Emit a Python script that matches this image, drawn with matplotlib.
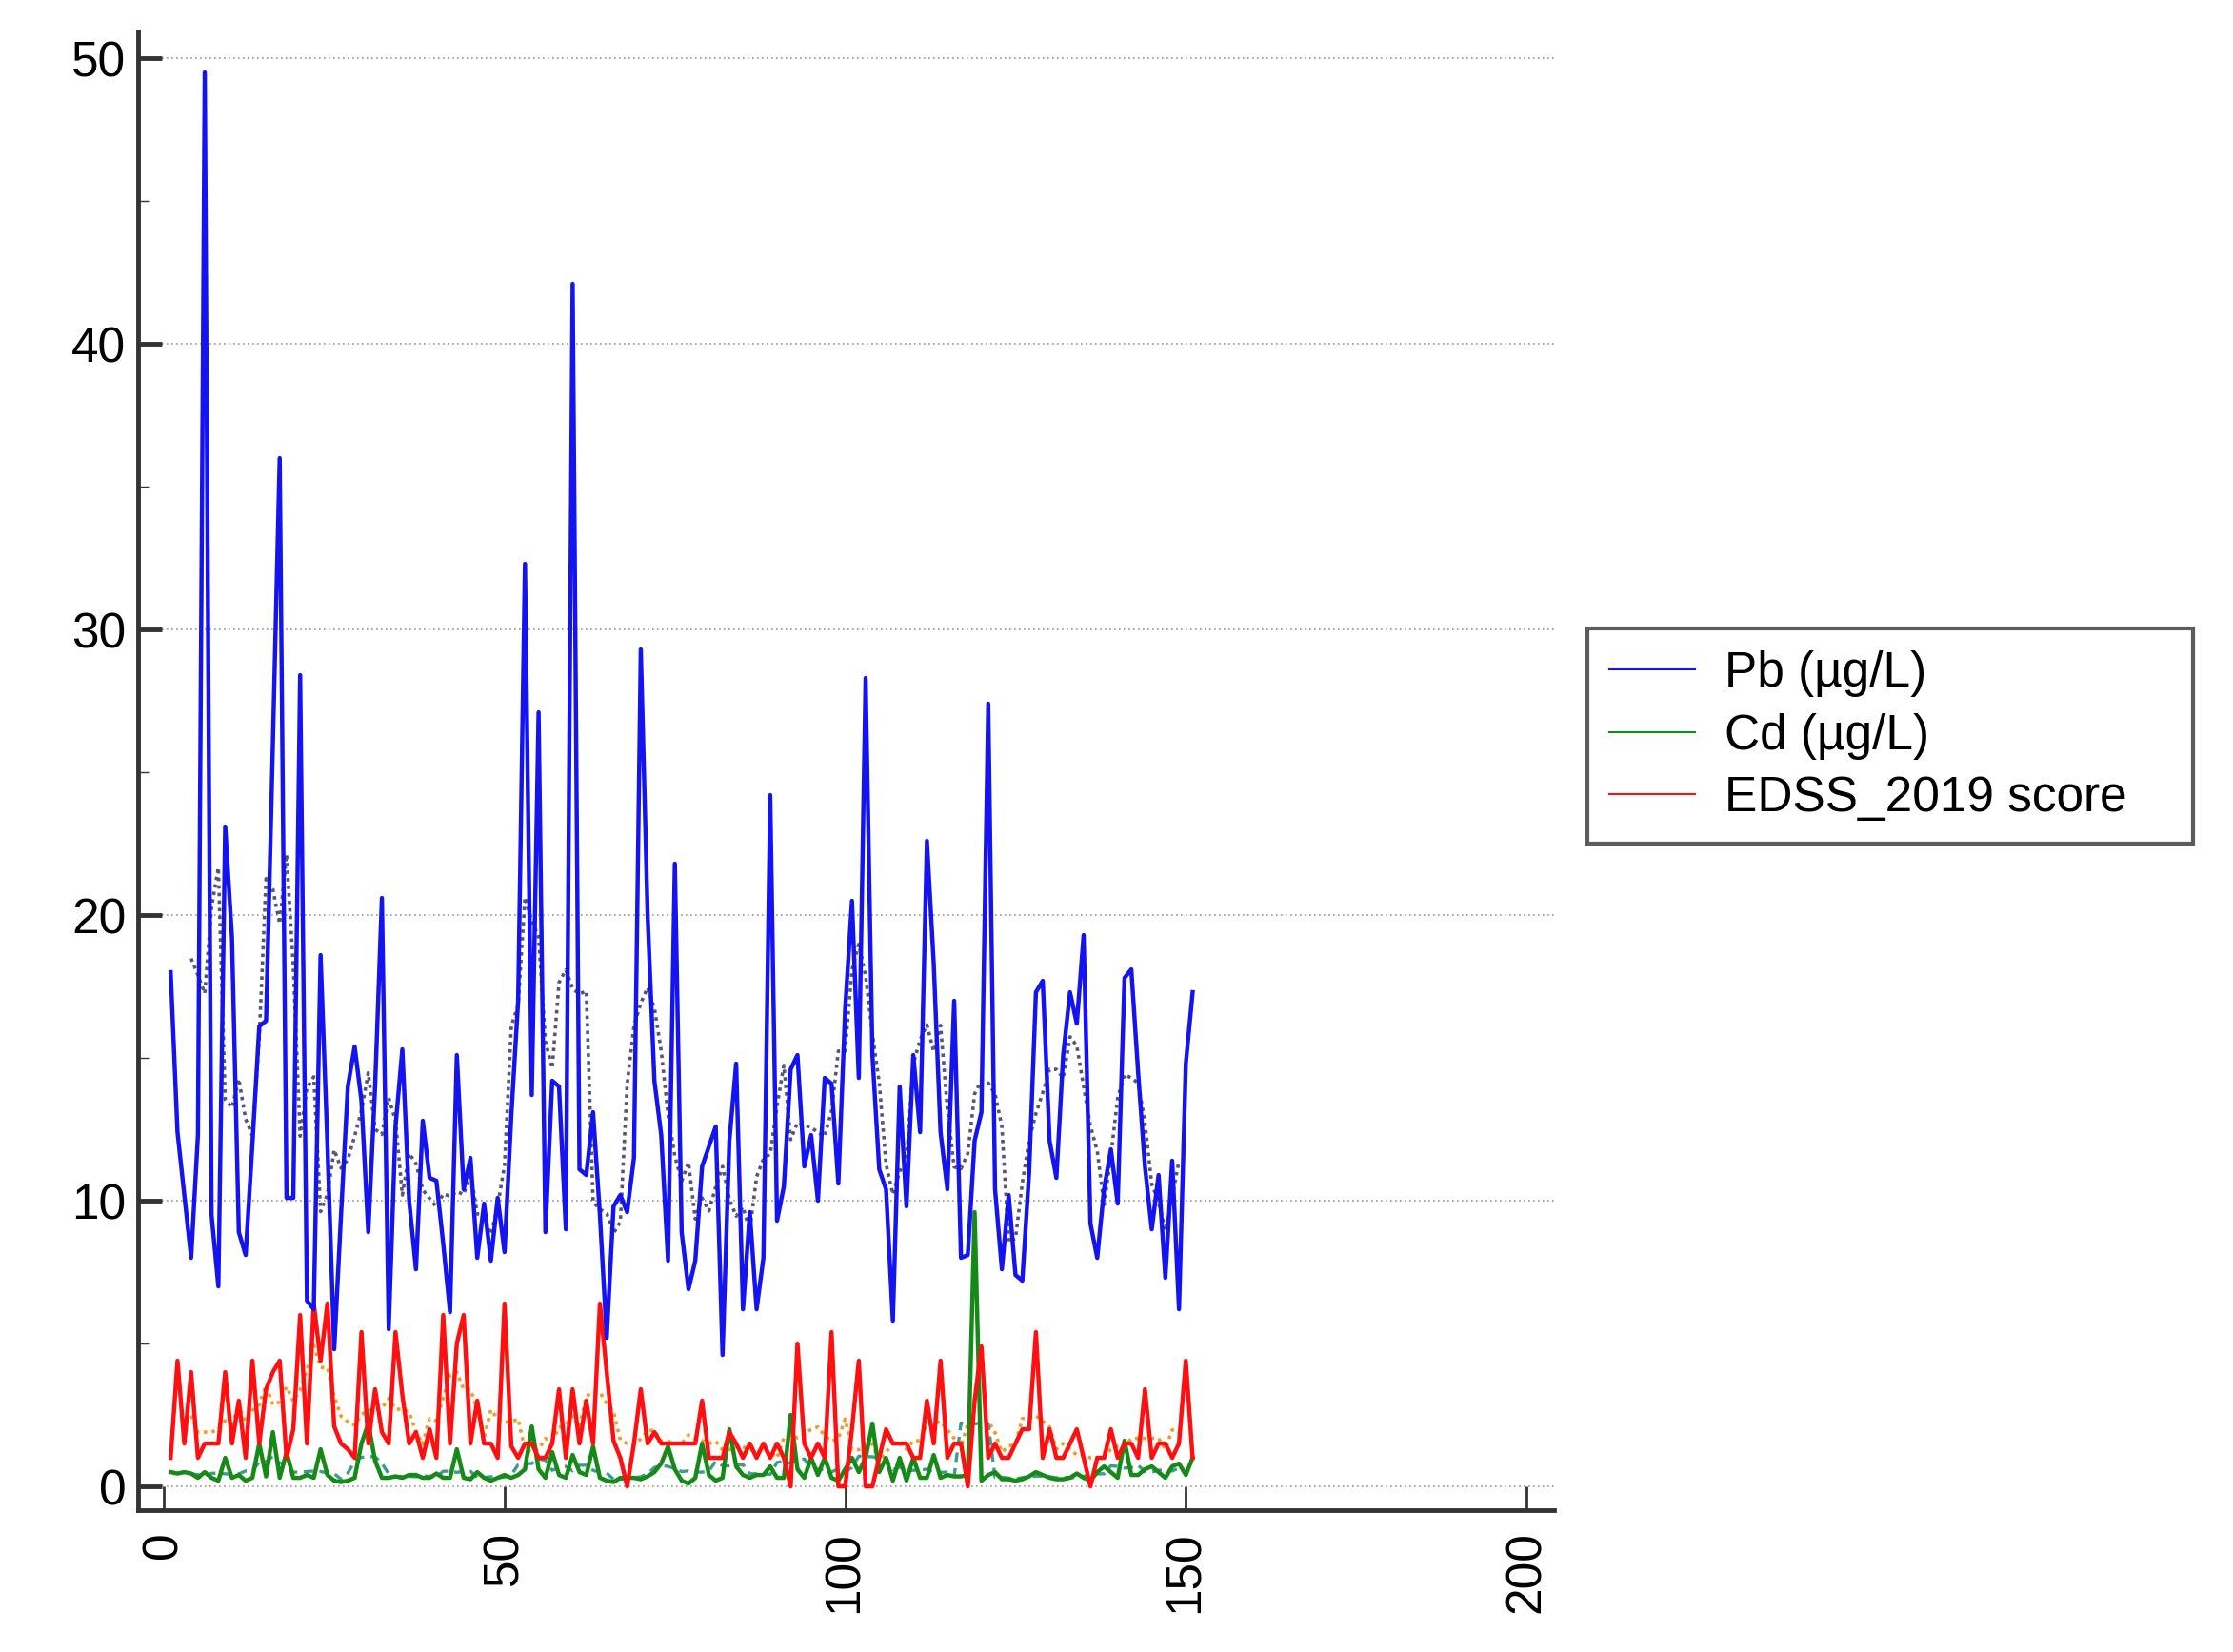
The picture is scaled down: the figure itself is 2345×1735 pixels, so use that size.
import numpy as np
import matplotlib.pyplot as plt
from matplotlib.lines import Line2D
from matplotlib.ticker import MultipleLocator

plt.rcParams['font.family'] = ['Liberation Sans', 'DejaVu Sans']

pb = [18.0, 12.4, 10.2, 8.0, 12.3, 49.5, 9.5, 7.0, 23.1, 19.2,
      8.9, 8.1, 12.0, 16.1, 16.3, 26.0, 36.0, 10.1, 10.1, 28.4,
      6.5, 6.2, 18.6, 12.0, 4.8, 9.5, 14.0, 15.4, 13.5, 8.9,
      14.0, 20.6, 5.5, 12.6, 15.3, 10.0, 7.6, 12.8, 10.8, 10.7,
      8.5, 6.1, 15.1, 10.4, 11.5, 8.0, 9.9, 7.9, 10.1, 8.2,
      13.0, 17.0, 32.3, 13.7, 27.1, 8.9, 14.2, 14.0, 9.0, 42.1,
      11.1, 10.9, 13.1, 9.5, 5.2, 9.8, 10.2, 9.6, 11.5, 29.3,
      20.0, 14.2, 12.3, 7.9, 21.8, 8.9, 6.9, 7.9, 11.2, 11.9,
      12.6, 4.6, 12.1, 14.8, 6.2, 9.6, 6.2, 8.0, 24.2, 9.3,
      10.5, 14.6, 15.1, 11.2, 12.3, 10.0, 14.3, 14.1, 10.6, 16.7,
      20.5, 14.3, 28.3, 15.1, 11.1, 10.4, 5.8, 14.0, 9.8, 15.1,
      12.4, 22.6, 18.3, 12.4, 10.4, 17.0, 8.0, 8.1, 12.1, 13.1,
      27.4, 10.4, 7.6, 10.2, 7.4, 7.2, 11.0, 17.3, 17.7, 12.1,
      10.8, 15.1, 17.3, 16.2, 19.3, 9.2, 8.0, 10.4, 11.8, 9.9,
      17.8, 18.1, 14.5, 11.2, 9.0, 10.9, 7.3, 11.4, 6.2, 14.8,
      17.3]

cd = [0.5, 0.45, 0.5, 0.45, 0.3, 0.5, 0.3, 0.2, 1.0, 0.3,
      0.4, 0.2, 0.3, 1.5, 0.35, 1.9, 0.3, 1.2, 0.3, 0.3,
      0.4, 0.3, 1.3, 0.4, 0.2, 0.15, 0.2, 0.3, 1.5, 2.2,
      0.9, 0.3, 0.3, 0.35, 0.3, 0.4, 0.4, 0.3, 0.3, 0.45,
      0.3, 0.3, 1.3, 0.3, 0.25, 0.5, 0.3, 0.2, 0.3, 0.4,
      0.3, 0.4, 0.6, 2.1, 0.6, 0.3, 1.2, 0.4, 0.3, 1.1,
      0.5, 0.4, 1.4, 0.3, 0.2, 0.15, 0.3, 0.3, 0.3, 0.25,
      0.35, 0.5, 0.8, 1.4, 0.6, 0.2, 0.1, 0.3, 1.5, 0.4,
      0.2, 0.3, 2.0, 0.7, 0.4, 0.3, 0.4, 0.4, 0.7, 0.3,
      0.3, 2.5, 0.6, 0.3, 1.0, 0.4, 1.0, 0.3, 0.2, 0.6,
      1.0, 0.5, 1.0, 2.2, 0.5, 1.0, 0.2, 1.0, 0.2, 1.0,
      0.3, 0.3, 1.1, 0.3, 0.4, 0.35, 0.35, 0.4, 9.6, 0.2,
      0.4, 0.5, 0.25, 0.25, 0.2, 0.25, 0.35, 0.5, 0.4, 0.3,
      0.25, 0.25, 0.3, 0.45, 0.3, 0.2, 0.5, 0.7, 0.5, 0.3,
      1.6, 0.4, 0.4, 0.6, 0.7, 0.5, 0.3, 0.7, 0.8, 0.4,
      1.0]

edss = [1.0, 4.4, 1.5, 4.0, 1.0, 1.5, 1.5, 1.5, 4.0, 1.5,
        3.0, 1.0, 4.4, 1.5, 3.4, 4.0, 4.4, 1.0, 2.0, 6.0,
        1.5, 6.4, 4.4, 6.4, 2.1, 1.5, 1.3, 1.0, 5.4, 1.5,
        3.4, 1.9, 1.5, 5.4, 3.2, 1.5, 1.9, 1.0, 2.0, 1.0,
        6.0, 1.5, 5.0, 6.0, 1.5, 3.0, 1.5, 1.5, 1.0, 6.4,
        1.4, 1.0, 1.5, 1.5, 1.0, 1.0, 1.5, 3.4, 1.0, 3.4,
        1.5, 3.0, 1.5, 6.4, 4.0, 1.6, 1.0, 0.0, 1.5, 3.4,
        1.5, 1.9, 1.5, 1.5, 1.5, 1.5, 1.5, 1.5, 3.0, 1.0,
        1.0, 1.0, 1.9, 1.5, 1.0, 1.5, 1.0, 1.5, 1.0, 1.5,
        1.0, 0.0, 5.0, 1.5, 1.0, 1.5, 1.0, 5.4, 0.0, 0.0,
        2.0, 4.4, 0.0, 0.0, 1.0, 2.0, 1.5, 1.5, 1.5, 1.0,
        1.0, 3.0, 1.5, 4.4, 1.0, 1.5, 1.5, 0.0, 3.0, 4.9,
        1.0, 1.5, 1.0, 1.0, 1.5, 2.0, 2.0, 5.4, 1.0, 2.0,
        1.0, 1.0, 1.5, 2.0, 1.0, 0.0, 1.0, 1.0, 2.0, 1.0,
        1.5, 1.5, 1.0, 3.4, 1.0, 1.5, 1.5, 1.0, 1.5, 4.4,
        1.0]

series_labels = ['Pb (µg/L)', 'Cd (µg/L)', 'EDSS_2019 score']
x_ticks = [0, 50, 100, 150, 200]
y_ticks = [0, 10, 20, 30, 40, 50]


def moving_average(values, n=5):
    # centred moving average, same as the dotted trend lines
    return np.convolve(values, np.ones(n) / n, mode='valid')


obs = np.arange(1, len(pb) + 1)
ma_x = obs[2:-2][1:]

fig = plt.figure(figsize=(23.45, 17.35), dpi=100)
ax = fig.add_axes([0.0618, 0.0859, 0.634, 0.895])

ax.yaxis.grid(True, linestyle=(0, (1, 2)), color='#999999', linewidth=1.2)
ax.set_axisbelow(True)

# trend lines
ax.plot(ma_x, moving_average(pb)[1:], linestyle=(0, (1, 1.2)), color='#55557a', linewidth=2.6)
ax.plot(ma_x, moving_average(edss)[1:], linestyle=(0, (1, 1.3)), color='#f59a23', linewidth=2.6)
ax.plot(ma_x, moving_average(cd)[1:], linestyle=(0, (3, 2)), color='#3c9c8c', linewidth=2.4)

ax.plot(obs, cd, color='#168a16', linewidth=3.2)
ax.plot(obs, edss, color='#ff1010', linewidth=3.2)
ax.plot(obs, pb, color='#1414f0', linewidth=3.2)

ax.set_xlim(-3.8, 204)
ax.set_ylim(-0.83, 50.93)
ax.set_xticks(x_ticks)
ax.set_yticks(y_ticks)
ax.yaxis.set_minor_locator(MultipleLocator(5))

for side in ['top', 'right']:
    ax.spines[side].set_visible(False)
for side in ['left', 'bottom']:
    ax.spines[side].set_linewidth(3.5)
    ax.spines[side].set_color('#333333')

ax.tick_params(axis='y', which='major', direction='in', length=18, width=3.5,
               color='#333333', labelsize=37, pad=9)
ax.tick_params(axis='y', which='minor', direction='in', length=8, width=1,
               color='#333333')
ax.tick_params(axis='x', which='major', direction='in', length=18, width=2,
               color='#333333', labelsize=37, pad=16, labelrotation=90)

handles = [Line2D([], [], color='#1414f0', linewidth=1.5),
           Line2D([], [], color='#168a16', linewidth=1.5),
           Line2D([], [], color='#ff1010', linewidth=1.5)]
leg = fig.legend(handles, series_labels, loc='upper left',
                 bbox_to_anchor=(0.711, 0.49, 0.271, 0.1296), mode='expand',
                 fontsize=37, frameon=True, fancybox=False, borderpad=0.45,
                 borderaxespad=0, handlelength=1.75, handletextpad=0.6,
                 labelspacing=0.32)
leg.get_frame().set_edgecolor('#333333')
leg.get_frame().set_linewidth(3)

plt.savefig('out.png', dpi=100)
